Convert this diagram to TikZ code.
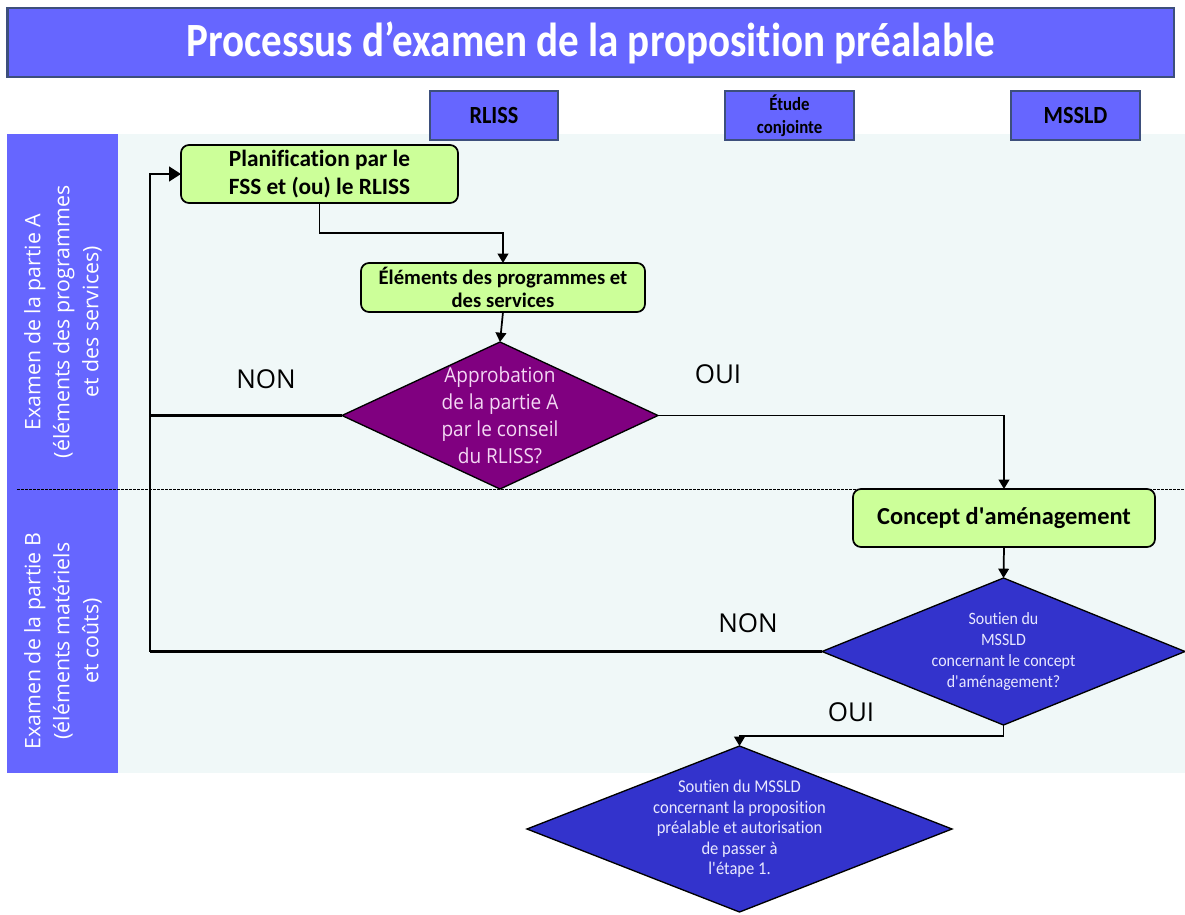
\documentclass[tikz,border=0pt]{standalone}
\usepackage{fontspec}
\setmainfont{Carlito}[Ligatures={NoCommon}]
\newfontfamily\titlefont[FakeStretch=0.86,Ligatures={NoCommon}]{Carlito}
\newfontfamily\condfont[FakeStretch=0.9,Ligatures={NoCommon}]{Carlito}
\newfontfamily\diafont[FakeStretch=0.92,Ligatures={NoCommon}]{Carlito}
\newfontfamily\osans{Open Sans}
\newfontfamily\osanscond[FakeStretch=0.92]{Open Sans}
\usetikzlibrary{shapes.geometric,arrows.meta}
\definecolor{hdr}{HTML}{6666FF}
\definecolor{hdrline}{HTML}{3D4F7C}
\definecolor{bgl}{HTML}{F0F8F8}
\definecolor{boxg}{HTML}{CCFF99}
\definecolor{purp}{HTML}{800080}
\definecolor{dblue}{HTML}{3333CC}
\definecolor{pinktxt}{HTML}{F4D8F4}
\definecolor{lavtxt}{HTML}{E8E8FF}
\tikzset{
  hdrbox/.style={draw=hdrline, line width=2pt, fill=hdr, inner sep=0pt, outer sep=0pt, align=center},
  gbox/.style={draw=black, line width=1.3pt, fill=boxg, rounded corners=6pt, inner sep=0pt, outer sep=0pt, align=center, font=\bfseries},
  dia/.style={shape=diamond, draw=black, line width=1pt, inner sep=0pt, outer sep=0pt},
  lbl/.style={font=\osans\fontsize{19.5pt}{22pt}\selectfont, text=black},
  side/.style={rotate=90, text=white, align=center, font=\osans\fontsize{16pt}{21.75pt}\selectfont},
  conn/.style={draw=black, line width=1.3pt, -{Triangle[width=8pt,length=7pt]}},
  loopline/.style={draw=black, line width=1.8pt},
}
\begin{document}
\begin{tikzpicture}[x=0.75pt,y=-0.75pt]
\useasboundingbox (0,0) rectangle (1185,914);
% backgrounds
\fill[bgl] (118,134) rectangle (1185,773);
\fill[hdr] (7,134) rectangle (118,773);
\draw[black, line width=0.6pt, dash pattern=on 2pt off 1pt] (17,489) -- (1185,489);
% title and column headers
\node[hdrbox, minimum width=875pt, minimum height=51.75pt, text=white, font=\titlefont\bfseries\fontsize{35.8pt}{38pt}\selectfont] (title) at (590.5,42.5) {Processus d’examen de la proposition préalable};
\node[hdrbox, minimum width=96pt, minimum height=36.75pt, font=\condfont\bfseries\fontsize{18.5pt}{20pt}\selectfont] (hrliss) at (494,115.5) {RLISS};
\node[hdrbox, minimum width=96.75pt, minimum height=36.75pt, font=\condfont\bfseries\fontsize{14pt}{17.5pt}\selectfont] (hetude) at (789.5,115.5) {Étude\\conjointe};
\node[hdrbox, minimum width=96.75pt, minimum height=36.75pt, font=\condfont\bfseries\fontsize{18.5pt}{20pt}\selectfont] (hmssld) at (1075.5,115.5) {MSSLD};
% side labels
\node[side] (sideA) at (63,322) {Examen de la partie A\\(éléments des programmes\\et des services)};
\node[side] (sideB) at (63,641) {Examen de la partie B\\(éléments matériels\\et coûts)};
% boxes
\node[gbox, minimum width=207.75pt, minimum height=43.5pt, font=\bfseries\fontsize{17.5pt}{21pt}\selectfont] (b1) at (319.5,174) {Planification par le\\FSS et (ou) le RLISS};
\node[gbox, minimum width=213pt, minimum height=36.75pt, font=\bfseries\fontsize{15.5pt}{17.25pt}\selectfont] (b2) at (503,287.5) {Éléments des programmes et\\des services};
\node[gbox, minimum width=226.5pt, minimum height=43.5pt, font=\bfseries\fontsize{18.3pt}{21pt}\selectfont] (b3) at (1004,518) {Concept d\textquotesingle aménagement};
% diamonds
\node[dia, fill=purp, minimum width=237pt, minimum height=110.25pt] (d1) at (500,415.5) {};
\node[align=center, text=pinktxt, font=\osanscond\fontsize{15.5pt}{20.25pt}\selectfont] (t1) at (d1.center) {Approbation\\de la partie A\\par le conseil\\du RLISS?};
\node[dia, fill=dblue, minimum width=272.25pt, minimum height=110.25pt] (d2) at (1003.5,651.5) {};
\node[align=center, text=lavtxt, font=\diafont\fontsize{13pt}{15.75pt}\selectfont] (t2) at (d2.center) {Soutien du\\MSSLD\\concernant le concept\\d\textquotesingle aménagement?};
\node[dia, fill=dblue, minimum width=318.75pt, minimum height=124.5pt] (d3) at (739.5,829) {};
\node[align=center, text=lavtxt, font=\diafont\fontsize{13.5pt}{15.4pt}\selectfont] (t3) at (d3.center) {Soutien du MSSLD\\concernant la proposition\\préalable et autorisation\\de passer à\\l\textquotesingle étape 1.};
% labels
\node[lbl] (non1) at (266,379) {NON};
\node[lbl] (oui1) at (718,374) {OUI};
\node[lbl] (non2) at (748,623) {NON};
\node[lbl] (oui2) at (851,712) {OUI};
% connectors
\coordinate (lp) at (150,651.5);
\draw[conn] (b1.south) -- ++(0,30) -| (b2.north);
\draw[conn] (b2.south) -- (d1.north);
\draw[conn] (d1.east) -| (b3.north);
\draw[conn] (b3.south) -- (d2.north);
\draw[conn] (d2.south) -- ++(0,11) -| (d3.north);
\draw[loopline] (d2.west) -- (lp);
\draw[loopline] (d1.west) -- (d1.west -| lp);
\draw[loopline, -{Triangle[width=11pt,length=9pt]}] (lp) |- (b1.west);
\end{tikzpicture}
\end{document}
